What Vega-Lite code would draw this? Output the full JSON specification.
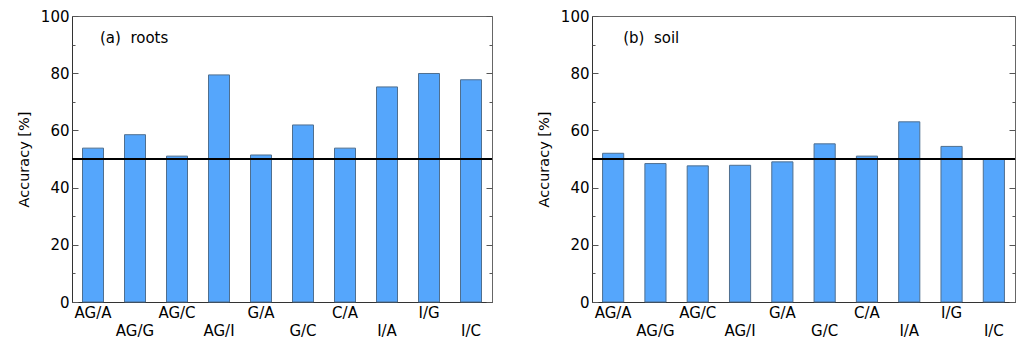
{
  "$schema": "https://vega.github.io/schema/vega-lite/v6.json",
  "padding": {"left": 15, "top": 8, "right": 0, "bottom": 0},
  "bounds": "flush",
  "spacing": 100,
  "config": {
    "font": "DejaVu Sans",
    "view": {"stroke": "#666", "strokeWidth": 1},
    "axis": {"labelColor": "black", "titleColor": "black", "labelFontSize": 15, "titleFontSize": 14.5, "titleFontWeight": "normal", "domainColor": "#333", "tickColor": "#555", "grid": false}
  },
  "hconcat": [
    {
      "width": 420,
      "height": 286,
      "data": {"values": [
        {"pair": "AG/A", "accuracy": 53.8},
        {"pair": "AG/G", "accuracy": 58.5},
        {"pair": "AG/C", "accuracy": 51.0},
        {"pair": "AG/I", "accuracy": 79.4},
        {"pair": "G/A", "accuracy": 51.4},
        {"pair": "G/C", "accuracy": 61.9},
        {"pair": "C/A", "accuracy": 53.8},
        {"pair": "I/A", "accuracy": 75.2},
        {"pair": "I/G", "accuracy": 79.9},
        {"pair": "I/C", "accuracy": 77.7}
      ]},
      "layer": [
        {
          "mark": {"type": "bar", "fill": "#55a6fc", "stroke": "#4f6f8f", "strokeWidth": 1},
          "encoding": {
            "x": {"field": "pair", "type": "nominal", "sort": null, "scale": {"paddingInner": 0.5, "paddingOuter": 0.25},
              "axis": {"title": null, "labelAngle": 0, "ticks": false, "labelPadding": {"condition": {"test": "indexof(['AG/G','AG/I','G/C','I/A','I/C'], datum.value) >= 0", "value": 21}, "value": 3}}},
            "y": {"field": "accuracy", "type": "quantitative", "scale": {"domain": [0, 100], "nice": false},
              "axis": {"orient": "left", "values": [0, 20, 40, 60, 80, 100], "title": "Accuracy [%]", "titlePadding": 9,
                "ticks": false, "labelPadding": 3}}
          }
        },
        {
          "transform": [{"filter": "datum.pair === 'AG/A'"}],
          "mark": {"type": "rule", "color": "black", "strokeWidth": 1.8},
          "encoding": {
            "y": {"datum": 50, "type": "quantitative",
              "axis": {"orient": "right", "offset": -420, "values": [0, 10, 20, 30, 40, 50, 60, 70, 80, 90, 100], "title": null, "labels": false, "domain": false,
                "tickSize": {"condition": {"test": "datum.value % 20 === 0", "value": 6}, "value": 3}}}
          }
        },
        {
          "transform": [{"filter": "datum.pair === 'AG/A'"}],
          "mark": {"type": "text", "align": "left", "baseline": "middle", "fontSize": 15, "dx": 7, "color": "black"},
          "encoding": {
            "x": {"datum": "AG/A", "type": "nominal"},
            "y": {"datum": 92.4, "type": "quantitative",
              "axis": {"orient": "left", "offset": -420, "values": [0, 10, 20, 30, 40, 50, 60, 70, 80, 90, 100], "title": null, "labels": false, "domain": false,
                "tickSize": {"condition": {"test": "datum.value % 20 === 0", "value": 6}, "value": 3}}},
            "text": {"value": "(a)\u00a0\u00a0roots"}
          }
        }
      ],
      "resolve": {"axis": {"y": "independent"}}
    },
    {
      "width": 423,
      "height": 286,
      "data": {"values": [
        {"pair": "AG/A", "accuracy": 52.0},
        {"pair": "AG/G", "accuracy": 48.4},
        {"pair": "AG/C", "accuracy": 47.6},
        {"pair": "AG/I", "accuracy": 47.8},
        {"pair": "G/A", "accuracy": 49.0},
        {"pair": "G/C", "accuracy": 55.3},
        {"pair": "C/A", "accuracy": 51.0},
        {"pair": "I/A", "accuracy": 63.0},
        {"pair": "I/G", "accuracy": 54.4},
        {"pair": "I/C", "accuracy": 50.0}
      ]},
      "layer": [
        {
          "mark": {"type": "bar", "fill": "#55a6fc", "stroke": "#4f6f8f", "strokeWidth": 1},
          "encoding": {
            "x": {"field": "pair", "type": "nominal", "sort": null, "scale": {"paddingInner": 0.5, "paddingOuter": 0.25},
              "axis": {"title": null, "labelAngle": 0, "ticks": false, "labelPadding": {"condition": {"test": "indexof(['AG/G','AG/I','G/C','I/A','I/C'], datum.value) >= 0", "value": 21}, "value": 3}}},
            "y": {"field": "accuracy", "type": "quantitative", "scale": {"domain": [0, 100], "nice": false},
              "axis": {"orient": "left", "values": [0, 20, 40, 60, 80, 100], "title": "Accuracy [%]", "titlePadding": 9,
                "ticks": false, "labelPadding": 3}}
          }
        },
        {
          "transform": [{"filter": "datum.pair === 'AG/A'"}],
          "mark": {"type": "rule", "color": "black", "strokeWidth": 1.8},
          "encoding": {
            "y": {"datum": 50, "type": "quantitative",
              "axis": {"orient": "right", "offset": -423, "values": [0, 10, 20, 30, 40, 50, 60, 70, 80, 90, 100], "title": null, "labels": false, "domain": false,
                "tickSize": {"condition": {"test": "datum.value % 20 === 0", "value": 6}, "value": 3}}}
          }
        },
        {
          "transform": [{"filter": "datum.pair === 'AG/A'"}],
          "mark": {"type": "text", "align": "left", "baseline": "middle", "fontSize": 15, "dx": 10, "color": "black"},
          "encoding": {
            "x": {"datum": "AG/A", "type": "nominal"},
            "y": {"datum": 92.4, "type": "quantitative",
              "axis": {"orient": "left", "offset": -423, "values": [0, 10, 20, 30, 40, 50, 60, 70, 80, 90, 100], "title": null, "labels": false, "domain": false,
                "tickSize": {"condition": {"test": "datum.value % 20 === 0", "value": 6}, "value": 3}}},
            "text": {"value": "(b)\u00a0\u00a0soil"}
          }
        }
      ],
      "resolve": {"axis": {"y": "independent"}}
    }
  ]
}
